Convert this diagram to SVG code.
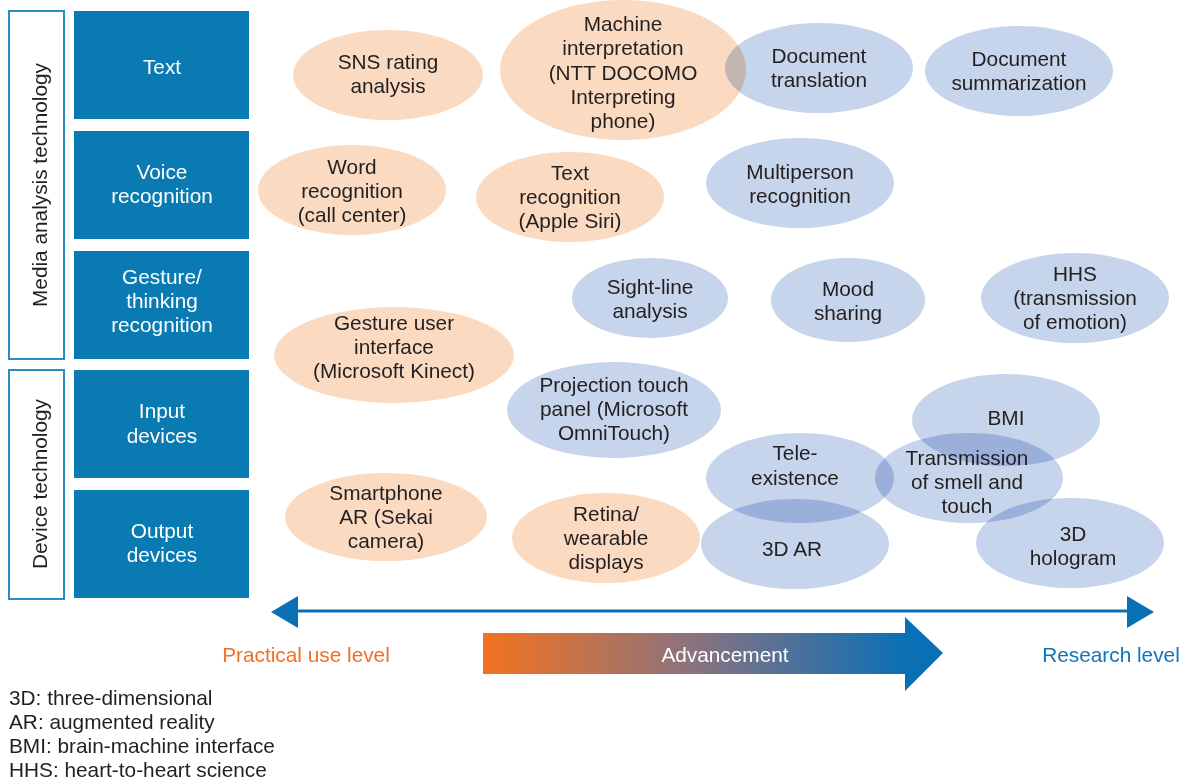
<svg xmlns="http://www.w3.org/2000/svg" width="1188" height="780" viewBox="0 0 1188 780">
<defs>
<linearGradient id="adv" gradientUnits="userSpaceOnUse" x1="483" y1="0" x2="905" y2="0">
<stop offset="0" stop-color="#f47220"/>
<stop offset="0.5" stop-color="#8a7280"/>
<stop offset="1" stop-color="#0a70b5"/>
</linearGradient>
<style>
text{font-family:"Liberation Sans",Arial,sans-serif;font-size:20.8px;text-anchor:middle;fill:#231f20}
.cat rect{fill:#0a7ab2}
.cat text{fill:#ffffff}
.grp rect{fill:#ffffff;stroke:#2b8cc4;stroke-width:2}
.o{fill:#fbdac2;mix-blend-mode:multiply}
.b{fill:#c6d4ec;mix-blend-mode:multiply}
.lg{text-anchor:start}
</style>
</defs>
<rect width="1188" height="780" fill="#ffffff"/>

<g id="grp-media" class="grp"><rect x="9" y="11" width="55" height="348"/><text transform="translate(47,185) rotate(-90)">Media analysis technology</text></g>
<g id="grp-device" class="grp"><rect x="9" y="370" width="55" height="229"/><text transform="translate(47,484) rotate(-90)">Device technology</text></g>

<g id="cat-text" class="cat"><rect x="74" y="11" width="175" height="108"/><text x="162" y="74">Text</text></g>
<g id="cat-voice" class="cat"><rect x="74" y="131" width="175" height="108"/><text x="162" y="179">Voice</text><text x="162" y="203">recognition</text></g>
<g id="cat-gesture" class="cat"><rect x="74" y="251" width="175" height="108"/><text x="162" y="284">Gesture/</text><text x="162" y="308">thinking</text><text x="162" y="332">recognition</text></g>
<g id="cat-input" class="cat"><rect x="74" y="370" width="175" height="108"/><text x="162" y="418">Input</text><text x="162" y="443">devices</text></g>
<g id="cat-output" class="cat"><rect x="74" y="490" width="175" height="108"/><text x="162" y="538">Output</text><text x="162" y="562">devices</text></g>

<g id="ellipses">
<g id="e-sns"><ellipse class="o" cx="388" cy="75" rx="95" ry="45"/></g>
<g id="e-machine"><ellipse class="o" cx="623" cy="70" rx="123" ry="70"/></g>
<g id="e-doctrans"><ellipse class="b" cx="819" cy="68" rx="94" ry="45"/></g>
<g id="e-docsum"><ellipse class="b" cx="1019" cy="71" rx="94" ry="45"/></g>
<g id="e-word"><ellipse class="o" cx="352" cy="190" rx="94" ry="45"/></g>
<g id="e-textrec"><ellipse class="o" cx="570" cy="197" rx="94" ry="45"/></g>
<g id="e-multi"><ellipse class="b" cx="800" cy="183" rx="94" ry="45"/></g>
<g id="e-sight"><ellipse class="b" cx="650" cy="298" rx="78" ry="40"/></g>
<g id="e-mood"><ellipse class="b" cx="848" cy="300" rx="77" ry="42"/></g>
<g id="e-hhs"><ellipse class="b" cx="1075" cy="298" rx="94" ry="45"/></g>
<g id="e-gestureui"><ellipse class="o" cx="394" cy="355" rx="120" ry="48"/></g>
<g id="e-proj"><ellipse class="b" cx="614" cy="410" rx="107" ry="48"/></g>
<g id="e-bmi"><ellipse class="b" cx="1006" cy="420" rx="94" ry="46"/></g>
<g id="e-tele"><ellipse class="b" cx="800" cy="478" rx="94" ry="45"/></g>
<g id="e-smell"><ellipse class="b" cx="969" cy="478" rx="94" ry="45"/></g>
<g id="e-3dar"><ellipse class="b" cx="795" cy="544" rx="94" ry="45"/></g>
<g id="e-holo"><ellipse class="b" cx="1070" cy="543" rx="94" ry="45"/></g>
<g id="e-smart"><ellipse class="o" cx="386" cy="517" rx="101" ry="44"/></g>
<g id="e-retina"><ellipse class="o" cx="606" cy="538" rx="94" ry="45"/></g>
</g>

<g id="labels">
<text x="388" y="69">SNS rating</text><text x="388" y="93">analysis</text>
<text x="623" y="31">Machine</text><text x="623" y="55">interpretation</text><text x="623" y="80">(NTT DOCOMO</text><text x="623" y="104">Interpreting</text><text x="623" y="128">phone)</text>
<text x="819" y="63">Document</text><text x="819" y="87">translation</text>
<text x="1019" y="66">Document</text><text x="1019" y="90">summarization</text>
<text x="352" y="174">Word</text><text x="352" y="198">recognition</text><text x="352" y="222">(call center)</text>
<text x="570" y="180">Text</text><text x="570" y="204">recognition</text><text x="570" y="228">(Apple Siri)</text>
<text x="800" y="179">Multiperson</text><text x="800" y="203">recognition</text>
<text x="650" y="294">Sight-line</text><text x="650" y="318">analysis</text>
<text x="848" y="296">Mood</text><text x="848" y="320">sharing</text>
<text x="1075" y="281">HHS</text><text x="1075" y="305">(transmission</text><text x="1075" y="329">of emotion)</text>
<text x="394" y="330">Gesture user</text><text x="394" y="354">interface</text><text x="394" y="378">(Microsoft Kinect)</text>
<text x="614" y="392">Projection touch</text><text x="614" y="416">panel (Microsoft</text><text x="614" y="440">OmniTouch)</text>
<text x="1006" y="425">BMI</text>
<text x="795" y="460">Tele-</text><text x="795" y="485">existence</text>
<text x="967" y="465">Transmission</text><text x="967" y="489">of smell and</text><text x="967" y="513">touch</text>
<text x="792" y="556">3D AR</text>
<text x="1073" y="541">3D</text><text x="1073" y="565">hologram</text>
<text x="386" y="500">Smartphone</text><text x="386" y="524">AR (Sekai</text><text x="386" y="548">camera)</text>
<text x="606" y="521">Retina/</text><text x="606" y="545">wearable</text><text x="606" y="569">displays</text>
</g>

<g id="connectors">
<line x1="295" y1="611" x2="1130" y2="611" stroke="#0a70b5" stroke-width="3"/>
<polygon points="271,612 298,596 298,628" fill="#0a70b5"/>
<polygon points="1154,612 1127,596 1127,628" fill="#0a70b5"/>
<polygon points="483,633 905,633 905,617 943,653 905,691 905,674 483,674" fill="url(#adv)"/>
</g>

<g id="scale-labels">
<text x="306" y="662" style="fill:#f26f21">Practical use level</text>
<text x="725" y="662" style="fill:#ffffff">Advancement</text>
<text x="1111" y="662" style="fill:#1173b8">Research level</text>
</g>

<g id="legend">
<text class="lg" x="9" y="705">3D: three-dimensional</text>
<text class="lg" x="9" y="729">AR: augmented reality</text>
<text class="lg" x="9" y="753">BMI: brain-machine interface</text>
<text class="lg" x="9" y="777">HHS: heart-to-heart science</text>
</g>
</svg>
